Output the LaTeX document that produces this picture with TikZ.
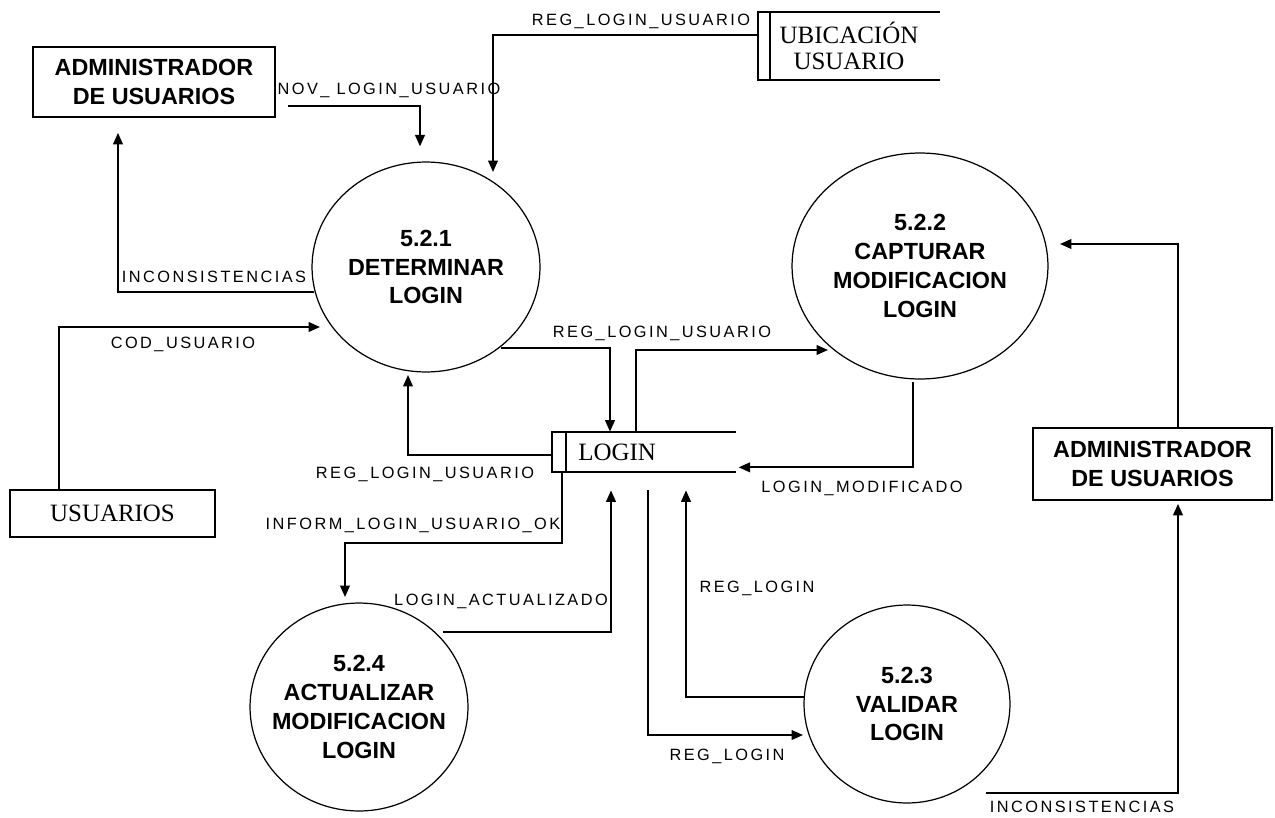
\documentclass[tikz,border=0pt]{standalone}
\usepackage{fontspec}
\setmainfont{Liberation Serif}
\newfontfamily\procfont{Liberation Sans}
\newfontfamily\flowfont[LetterSpace=15]{Liberation Sans}
\usetikzlibrary{shapes.geometric,arrows.meta,calc}

\begin{document}
\begin{tikzpicture}[x=0.02cm,y=-0.02cm,
  dfdline/.style={line width=1pt},
  dfdflow/.style={draw, line width=1pt, -{Triangle[length=6.5pt,width=5.5pt]}},
  dfdproc/.style={ellipse, draw, line width=0.7pt, inner sep=0pt},
  dfdptext/.style={font=\procfont\bfseries\fontsize{13.3}{16.4}\selectfont, align=center, inner sep=0pt},
  dfdext/.style={rectangle, draw, line width=1pt, inner sep=0pt,
    font=\procfont\bfseries\fontsize{13.3}{16.4}\selectfont, align=center},
  dfdbox/.style={rectangle, draw, line width=1pt, inner sep=0pt,
    font=\fontsize{14.2}{14.7}\selectfont, align=center},
  dfdstoretext/.style={inner sep=0pt, font=\fontsize{14.2}{14.7}\selectfont},
  dfdlabel/.style={font=\flowfont\fontsize{9.3}{11}\selectfont, inner sep=0pt,
    text height=6.7pt, text depth=0pt}]

\fill[white] (0,0) rectangle (1275,818);
\useasboundingbox (0,0) rectangle (1275,818);

% external entities
\node[dfdext, minimum width=4.84cm, minimum height=1.4cm] (adm1) at (154,82) {ADMINISTRADOR\\DE USUARIOS};
\node[dfdext, minimum width=4.78cm, minimum height=1.44cm] (adm2) at (1152.5,464) {ADMINISTRADOR\\DE USUARIOS};
\node[dfdbox, minimum width=4.1cm, minimum height=0.94cm] (usuarios) at (112.5,513.5) {USUARIOS};

% processes
\node[dfdproc, minimum width=4.56cm, minimum height=4.2cm,
  label={[dfdptext]center:{5.2.1\\DETERMINAR\\LOGIN}}] (c1) at (426,267) {};
\node[dfdproc, minimum width=5.12cm, minimum height=4.52cm,
  label={[dfdptext]center:{5.2.2\\CAPTURAR\\MODIFICACION\\LOGIN}}] (c2) at (920,266) {};
\node[dfdproc, minimum width=4.12cm, minimum height=3.96cm,
  label={[dfdptext]center:{5.2.3\\VALIDAR\\LOGIN}}] (c3) at (907,704) {};
\node[dfdproc, minimum width=4.36cm, minimum height=4.16cm,
  label={[dfdptext]center:{5.2.4\\ACTUALIZAR\\MODIFICACION\\LOGIN}}] (c4) at (359,707) {};

% data stores
\node[dfdstoretext, minimum width=3.64cm, minimum height=1.36cm, align=center] (ubic) at (849,46) {UBICACIÓN\\USUARIO};
\draw[dfdline] (ubic.north east) -- (ubic.north west) -- (ubic.south west) -- (ubic.south east);
\draw[dfdline] ($(ubic.north west)+(12,0)$) -- ($(ubic.south west)+(12,0)$);

\node[dfdstoretext, anchor=west, text width=2.62cm, inner xsep=0.52cm, minimum height=0.8cm, align=left] (login) at (552,452) {LOGIN};
\draw[dfdline] (login.north east) -- (login.north west) -- (login.south west) -- (login.south east);
\draw[dfdline] ($(login.north west)+(14,0)$) -- ($(login.south west)+(14,0)$);

% data flows
\draw[dfdflow] ($(adm1.south east)+(12,-12)$) -| ($(c1.north)+(-6,-15)$);
\draw[dfdflow] ($(ubic.west)+(0,-11)$) -| ($(c1.center)+(67,-95)$);
\draw[dfdflow] ($(c1.center)+(-112,25)$) -| ($(adm1.south)+(-36,15)$);
\draw[dfdflow] ($(usuarios.north west)+(50,0)$) |- ($(c1.center)+(-106,60)$);
\draw[dfdflow] ($(c1.center)+(75,81)$) -| ($(login.north west)+(58,0)$);
\draw[dfdflow] ($(login.north west)+(84,0)$) |- ($(c2.center)+(-92,84)$);
\draw[dfdflow] ($(login.west)+(0,3)$) -| ($(c1.center)+(-18,108)$);
\draw[dfdflow] ($(c2.south)+(-7,2)$) |- ($(login.south east)+(3,-5)$);
\draw[dfdflow] ($(login.south west)+(10,0)$) -- ($(login.south west)+(10,71)$) -| ($(c4.center)+(-14,-110)$);
\draw[dfdflow] ($(c4.center)+(84,-75)$) -| ($(login.south west)+(59,18)$);
\draw[dfdflow] ($(login.south west)+(96,18)$) |- ($(c3.center)+(-104,31)$);
\draw[dfdflow] ($(c3.center)+(-103,-7)$) -| ($(login.south west)+(134,18)$);
\draw[dfdflow] ($(c3.center)+(79,89)$) -| ($(adm2.south)+(25.5,3)$);
\draw[dfdflow] ($(adm2.north)+(25.5,0)$) |- ($(c2.center)+(140,-22)$);

% flow labels
\node[dfdlabel] (t1) at (389,89) {NOV\_ LOGIN\_USUARIO};
\node[dfdlabel] (t2) at (641,20) {REG\_LOGIN\_USUARIO};
\node[dfdlabel] (t3) at (214,277) {INCONSISTENCIAS};
\node[dfdlabel] (t4) at (183,343) {COD\_USUARIO};
\node[dfdlabel] (t5) at (662,332) {REG\_LOGIN\_USUARIO};
\node[dfdlabel] (t6) at (425,473) {REG\_LOGIN\_USUARIO};
\node[dfdlabel] (t7) at (862,487) {LOGIN\_MODIFICADO};
\node[dfdlabel] (t8) at (413,524) {INFORM\_LOGIN\_USUARIO\_OK};
\node[dfdlabel] (t9) at (501,600) {LOGIN\_ACTUALIZADO};
\node[dfdlabel] (t10) at (757,587) {REG\_LOGIN};
\node[dfdlabel] (t11) at (727,755) {REG\_LOGIN};
\node[dfdlabel] (t12) at (1082,807) {INCONSISTENCIAS};
\end{tikzpicture}
\end{document}
